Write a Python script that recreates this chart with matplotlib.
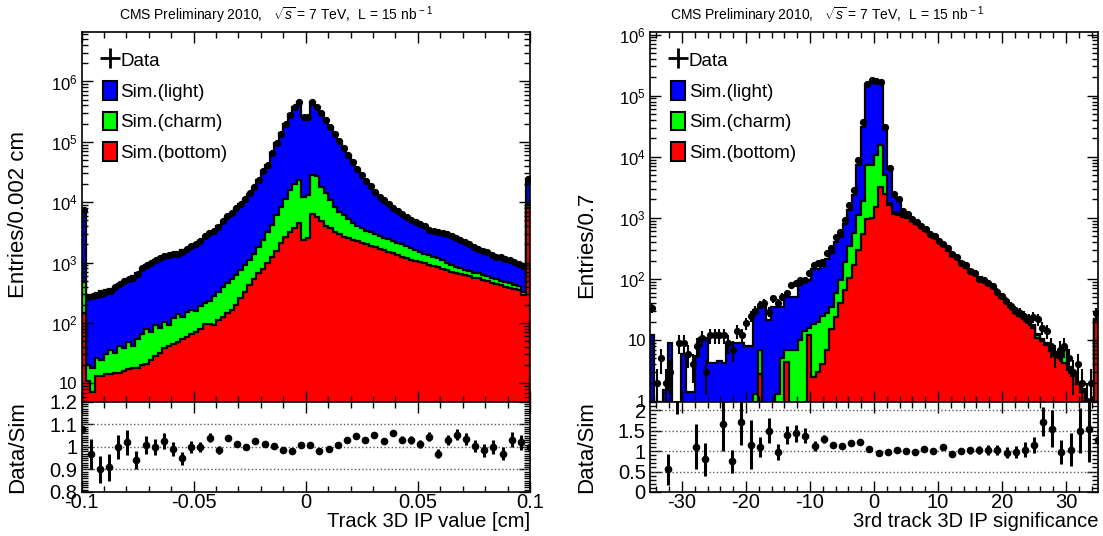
import numpy as np
import matplotlib
matplotlib.use('Agg')
import matplotlib.pyplot as plt
from matplotlib.ticker import MultipleLocator, LogLocator, FuncFormatter, NullFormatter
from matplotlib.patches import Patch
from matplotlib.lines import Line2D

plt.rcParams['font.family'] = ['Liberation Sans', 'DejaVu Sans']
plt.rcParams['mathtext.fontset'] = 'custom'
plt.rcParams['mathtext.rm'] = 'Liberation Sans'
plt.rcParams['mathtext.it'] = 'Liberation Sans:italic'
plt.rcParams['axes.unicode_minus'] = False

# ---- left panel: track 3D IP value, 100 bins in [-0.1, 0.1] cm (stack tops)
ip_all = [6900, 275, 290, 315, 340, 355, 370, 400, 435, 480,
          525, 590, 675, 795, 910, 1000, 1100, 1175, 1260, 1320,
          1380, 1480, 1585, 1700, 1860, 2040, 2290, 2630, 2950, 3390,
          3980, 4680, 5620, 6610, 7760, 9330, 11500, 13800, 17400, 22900,
          33100, 41700, 64600, 95500, 138000, 200000, 288000, 380000, 457000, 257000,
          257000, 457000, 380000, 302000, 229000, 174000, 132000, 100000, 75900, 57500,
          43700, 33900, 26900, 21400, 17400, 14100, 12000, 10200, 8910, 7760,
          6920, 6170, 5500, 5010, 4570, 4170, 3890, 3630, 3390, 3160,
          2950, 2820, 2630, 2450, 2290, 2140, 2000, 1820, 1700, 1580,
          1480, 1380, 1290, 1200, 1120, 1070, 1000, 930, 890, 24500]
ip_bc = [480, 20, 18, 26, 24, 30, 35, 32, 42, 38,
         48, 42, 55, 66, 79, 72, 91, 83, 105, 93,
         120, 138, 126, 151, 166, 158, 190, 214, 229, 282,
         331, 398, 457, 537, 631, 759, 912, 1120, 1380, 1820,
         2400, 3160, 4170, 6030, 8320, 11500, 15800, 20000, 23400, 12000,
         13200, 28200, 26900, 18200, 14100, 10700, 8320, 6920, 6030, 5250,
         4570, 4070, 3720, 3390, 3160, 2950, 2750, 2570, 2450, 2290,
         2140, 2000, 1860, 1740, 1620, 1510, 1410, 1320, 1260, 1170,
         1100, 980, 910, 850, 810, 760, 720, 680, 660, 620,
         590, 550, 525, 500, 480, 457, 427, 407, 331, 8900]
ip_b = [148, 11, 7.2, 13, 13, 14, 14, 15, 15, 16,
        17, 18, 18, 20, 21, 24, 28, 32, 38, 42,
        45, 48, 55, 59, 66, 72, 79, 95, 95, 93,
        112, 126, 145, 162, 200, 263, 331, 417, 525, 661,
        794, 1000, 1260, 1580, 2090, 2630, 3160, 3800, 4470, 2400,
        2510, 6460, 5750, 4790, 3980, 3720, 3240, 2950, 2690, 2510,
        2340, 2240, 2090, 2000, 1900, 1820, 1700, 1620, 1510, 1450,
        1350, 1260, 1170, 1120, 1070, 1020, 980, 910, 870, 850,
        790, 740, 710, 680, 650, 620, 590, 560, 550, 510,
        490, 457, 437, 417, 398, 380, 363, 355, 288, 7900]
ip_data = [7500, 270, 280, 285, 305, 325, 335, 400, 435, 490,
           535, 555, 635, 800, 920, 1000, 1100, 1200, 1290, 1310,
           1370, 1400, 1510, 1700, 1860, 2040, 2290, 2730, 3070, 3340,
           3920, 4870, 5840, 6710, 7880, 9330, 11500, 14100, 17800, 23200,
           33500, 41900, 64900, 94100, 136000, 197000, 283000, 384000, 462000, 260000,
           260000, 450000, 374000, 300000, 227000, 176000, 133000, 103000, 78200, 60400,
           45900, 34900, 27700, 22600, 18400, 14500, 12300, 10800, 9440, 8020,
           7150, 6360, 5670, 5090, 4640, 4360, 4070, 3520, 3290, 3260,
           3050, 2980, 2780, 2540, 2370, 2150, 2010, 1790, 1670, 1580,
           1480, 1340, 1250, 1240, 1160, 1090, 1020, 930, 890, 24500]
ip_ratio = [1.08, 0.97, 0.90, 0.91, 1.00, 1.02, 0.94, 1.01, 1.00, 1.025,
            0.99, 0.95, 1.00, 1.00, 1.04, 0.985, 1.04, 1.015, 1.00, 1.025,
            1.013, 1.005, 0.985, 0.983, 1.01, 1.01, 0.984, 0.992, 1.01, 1.03,
            1.05, 1.03, 1.055, 1.025, 1.06, 1.033, 1.03, 1.015, 1.045, 0.97,
            1.033, 1.055, 1.035, 1.005, 0.985, 1.00, 0.97, 1.033, 1.02, 1.00]
ip_ratio_err = [0.008, 0.067, 0.062, 0.06, 0.055, 0.054, 0.04, 0.04, 0.035, 0.035,
                0.03, 0.028, 0.025, 0.022, 0.02, 0.018, 0.015, 0.012, 0.01, 0.008,
                0.006, 0.005, 0.004, 0.004, 0.004, 0.004, 0.004, 0.005, 0.006, 0.007,
                0.008, 0.009, 0.01, 0.012, 0.013, 0.015, 0.017, 0.018, 0.02, 0.02,
                0.022, 0.025, 0.025, 0.028, 0.03, 0.03, 0.03, 0.035, 0.035, 0.01]

# ---- right panel: 3rd track 3D IP significance, 100 bins in [-35, 35]
sig_all = [12, 0, 0, 1.5, 9, 0, 0, 6, 1.4, 1.4,
           5.4, 11, 11, 4.2, 4.2, 4.5, 4.2, 9, 9, 9,
           9, 8, 8, 31, 35, 35, 21, 35, 35, 35,
           51, 51, 51, 80, 95, 95, 148, 148, 160, 215,
           265, 400, 490, 780, 1350, 2400, 7400, 31000, 150000, 175000,
           180000, 175000, 29500, 6500, 2500, 2000, 1300, 1100, 960, 850,
           745, 640, 550, 490, 425, 372, 306, 255, 222, 190,
           159, 138, 122, 106, 94, 84, 75, 61, 51, 43,
           37, 30, 27, 23.5, 20.5, 17.5, 12.5, 10.3, 9, 7.2,
           6.1, 5.4, 7.2, 3.6, 2.8, 2.1, 1.6, 0, 0, 22.5]
sig_bc = [0, 0, 0, 0, 0, 0, 0, 0, 0, 0,
          0, 0, 0, 0, 0, 0, 0, 0, 0, 0,
          0, 0, 0, 1.3, 7, 0, 0, 0, 1.3, 5,
          7, 7, 7, 10, 14, 16, 18, 20, 25, 28,
          35, 59, 95, 190, 340, 560, 1100, 1900, 7400, 7400,
          10700, 15500, 5000, 1750, 1250, 1200, 1100, 1050, 940, 830,
          730, 625, 540, 480, 415, 365, 300, 250, 218, 187,
          156, 135, 120, 104, 92, 82, 74, 60, 50, 42,
          36, 29, 26, 23, 20, 17, 12, 10, 8.7, 7,
          5.9, 5.2, 7, 3.5, 2.7, 2, 1.5, 0, 0, 22]
sig_b = [0, 0, 0, 0, 0, 0, 0, 0, 0, 0,
         0, 0, 0, 0, 0, 0, 0, 0, 0, 0,
         0, 0, 0, 0, 2.8, 0, 0, 0, 0, 0,
         4.4, 0, 0, 0, 0, 12, 2.5, 3, 4, 7,
         15, 24, 40, 65, 105, 170, 300, 550, 950, 1000,
         1500, 3200, 2500, 1600, 1150, 1100, 1050, 1000, 900, 800,
         700, 600, 520, 460, 400, 350, 290, 240, 210, 180,
         150, 130, 115, 100, 89, 79, 71, 58, 48, 40,
         35, 28, 25, 22, 19, 16, 11, 9.5, 8.3, 6.6,
         5.6, 5, 4.2, 3.3, 2.6, 1.9, 1.4, 0, 0, 21]
sig_data = [33, 2, 5, 2, 3, 0, 9, 9, 6, 4,
            8, 11, 3, 12, 12, 12, 12, 9, 7, 14,
            12, 19, 25, 30, 38, 40, 29, 48, 40, 51,
            59, 79, 85, 95, 95, 123, 170, 182, 190, 263,
            316, 490, 590, 930, 1620, 2880, 8900, 37000, 155000, 180000,
            172000, 168000, 31000, 6600, 2450, 2050, 1280, 1150, 950, 860,
            740, 660, 540, 500, 420, 380, 320, 255, 230, 185,
            170, 135, 125, 100, 95, 87, 76, 62, 52, 44,
            36, 31, 28, 25, 22, 24, 22, 16, 14, 8,
            6, 7, 8, 5, 3, 4, 2, 1, 2, 28]
sig_ratio = [None, None, 0.55, 2.6, None, 1.1, 0.8, None, 1.65, 0.75,
             1.7, 1.15, 1.1, 1.5, 0.97, 1.4, 1.43, 1.38, 1.13, 1.3,
             1.15, 1.12, 1.2, 1.22, 1.05, 0.95, 0.98, 1.02, 1.0, 0.98,
             1.04, 1.0, 1.1, 0.92, 1.0, 1.02, 1.02, 1.03, 1.02, 0.96,
             0.97, 1.03, 1.15, 1.72, 1.55, 0.98, 1.03, 1.5, 1.53, 1.27]
sig_ratio_err = [0, 0, 0.37, 0.7, 0, 0.55, 0.4, 0, 0.65, 0.28,
                 0.55, 0.6, 0.25, 0.3, 0.2, 0.22, 0.2, 0.18, 0.12, 0.1,
                 0.08, 0.05, 0.03, 0.03, 0.01, 0.01, 0.01, 0.01, 0.015, 0.02,
                 0.025, 0.03, 0.05, 0.06, 0.07, 0.08, 0.1, 0.12, 0.12, 0.13,
                 0.15, 0.18, 0.2, 0.35, 0.45, 0.3, 0.4, 0.55, 0.8, 0.1]

BLUE, GREEN, RED = '#0000ff', '#00ff00', '#ff0000'
FLOOR = 1e-2
TITLE = r'CMS Preliminary 2010,   $\sqrt{s}$ = 7 TeV,  L = 15 nb$^{\,-1}$'


def log_label(v, pos):
    e = int(round(np.log10(v)))
    if e == 0:
        return '1'
    if e == 1:
        return '10'
    return r'$10^{%d}$' % e


def frame(ax, size):
    ax.tick_params(which='both', direction='in', top=True, right=True, labelsize=size)
    ax.tick_params(which='major', length=8, width=1)
    ax.tick_params(which='minor', length=4, width=1)
    for s in ax.spines.values():
        s.set_linewidth(1.2)


def draw_main(ax, edges, s_all, s_bc, s_b, data, ylim, ylabel, title_x):
    for vals, col in ((s_all, BLUE), (s_bc, GREEN), (s_b, RED)):
        v = np.asarray(vals, float)
        v = np.where(v > 0, v, FLOOR)
        ax.stairs(v, edges, baseline=FLOOR, fill=True, color=col, lw=0)
        ax.stairs(v, edges, baseline=FLOOR, color='k', lw=1.6)
    d = np.asarray(data, float)
    c = 0.5 * (edges[1:] + edges[:-1])
    m = d > 0
    err = np.sqrt(d[m])
    ax.errorbar(c[m], d[m], yerr=[np.minimum(err, d[m] * 0.999), err], fmt='o',
                color='k', ms=4.2, elinewidth=1.5, capsize=0)
    ax.set_yscale('log')
    ax.set_xlim(edges[0], edges[-1])
    ax.set_ylim(*ylim)
    ax.yaxis.set_major_locator(LogLocator(base=10, numticks=12))
    ax.yaxis.set_minor_locator(LogLocator(base=10, subs=np.arange(2, 10), numticks=12))
    ax.yaxis.set_major_formatter(FuncFormatter(log_label))
    ax.yaxis.set_minor_formatter(NullFormatter())
    ax.xaxis.set_major_formatter(NullFormatter())
    frame(ax, 12)
    ax.tick_params(axis='y', pad=3)
    # y title starts just above the bottom of the frame, as in ROOT
    ax.set_ylabel(ylabel, fontsize=16)
    ax.yaxis.label.set_horizontalalignment('left')
    ax.yaxis.set_label_coords(-0.118, 0.28)
    ax.text(title_x, 1.046, TITLE, transform=ax.transAxes, ha='center', va='center',
            fontsize=10)
    handles = [Line2D([], [], marker='+', ms=14, mew=2, color='k', ls='none'),
               Patch(fc=BLUE, ec='k', lw=1.5), Patch(fc=GREEN, ec='k', lw=1.5),
               Patch(fc=RED, ec='k', lw=1.5)]
    ax.legend(handles, ['Data', 'Sim.(light)', 'Sim.(charm)', 'Sim.(bottom)'],
              loc='upper left', bbox_to_anchor=(0.047, 0.95), frameon=False,
              fontsize=13.5, handlelength=0.75, handleheight=1.15, handletextpad=0.2,
              labelspacing=0.58, borderpad=0, borderaxespad=0)


def draw_ratio(ax, xpos, ratio, rerr, xlim, ylim, grid, ymaj, ymin, xmaj, xmin, xlabel):
    r = np.array([np.nan if v is None else v for v in ratio], float)
    for g in grid:
        ax.axhline(g, ls=':', color='0.35', lw=1)
    ax.errorbar(xpos, r, yerr=rerr, fmt='o', color='k', ms=4.5, elinewidth=2.2, capsize=0)
    ax.set_xlim(*xlim)
    ax.set_ylim(*ylim)
    ax.xaxis.set_major_locator(MultipleLocator(xmaj))
    ax.xaxis.set_minor_locator(MultipleLocator(xmin))
    ax.yaxis.set_major_locator(MultipleLocator(ymaj))
    ax.yaxis.set_minor_locator(MultipleLocator(ymin))
    fmt = FuncFormatter(lambda v, p: '%g' % round(v, 4))
    ax.xaxis.set_major_formatter(fmt)
    ax.yaxis.set_major_formatter(fmt)
    frame(ax, 14.5)
    ax.tick_params(axis='x', pad=1)
    ax.tick_params(axis='y', pad=3)
    ax.set_ylabel('Data/Sim', fontsize=16)
    ax.yaxis.set_label_coords(-0.118, 0.5)
    ax.set_xlabel(xlabel, fontsize=14.5, ha='right')
    ax.xaxis.set_label_coords(1.0, -0.22)


fig = plt.figure(figsize=(11.03, 5.36), dpi=100)
axL = fig.add_axes([0.0739, 0.25, 0.4066, 0.6903])
rL = fig.add_axes([0.0739, 0.0821, 0.4066, 0.1679])
axR = fig.add_axes([0.5893, 0.25, 0.4062, 0.6903])
rR = fig.add_axes([0.5893, 0.0821, 0.4062, 0.1679])

ip_edges = np.linspace(-0.1, 0.1, 101)
sig_edges = np.linspace(-35, 35, 101)

draw_main(axL, ip_edges, ip_all, ip_bc, ip_b, ip_data, (4.9, 6.6e6), 'Entries/0.002 cm', 0.433)
axL.xaxis.set_major_locator(MultipleLocator(0.05))
axL.xaxis.set_minor_locator(MultipleLocator(0.01))
draw_ratio(rL, np.linspace(-0.1, 0.1, 50), ip_ratio, ip_ratio_err, (-0.1, 0.1), (0.8, 1.2),
           (0.9, 1.0, 1.1), 0.1, 0.01, 0.05, 0.01, 'Track 3D IP value [cm]')

draw_main(axR, sig_edges, sig_all, sig_bc, sig_b, sig_data, (0.97, 1.1e6), 'Entries/0.7', 0.395)
axR.xaxis.set_major_locator(MultipleLocator(10))
axR.xaxis.set_minor_locator(MultipleLocator(2))
draw_ratio(rR, np.linspace(-35, 35, 50), sig_ratio, sig_ratio_err, (-35, 35), (0, 2.2),
           (0.5, 1.0, 1.5, 2.0), 0.5, 0.1, 10, 2, '3rd track 3D IP significance')

fig.savefig('out.png', dpi=100)
